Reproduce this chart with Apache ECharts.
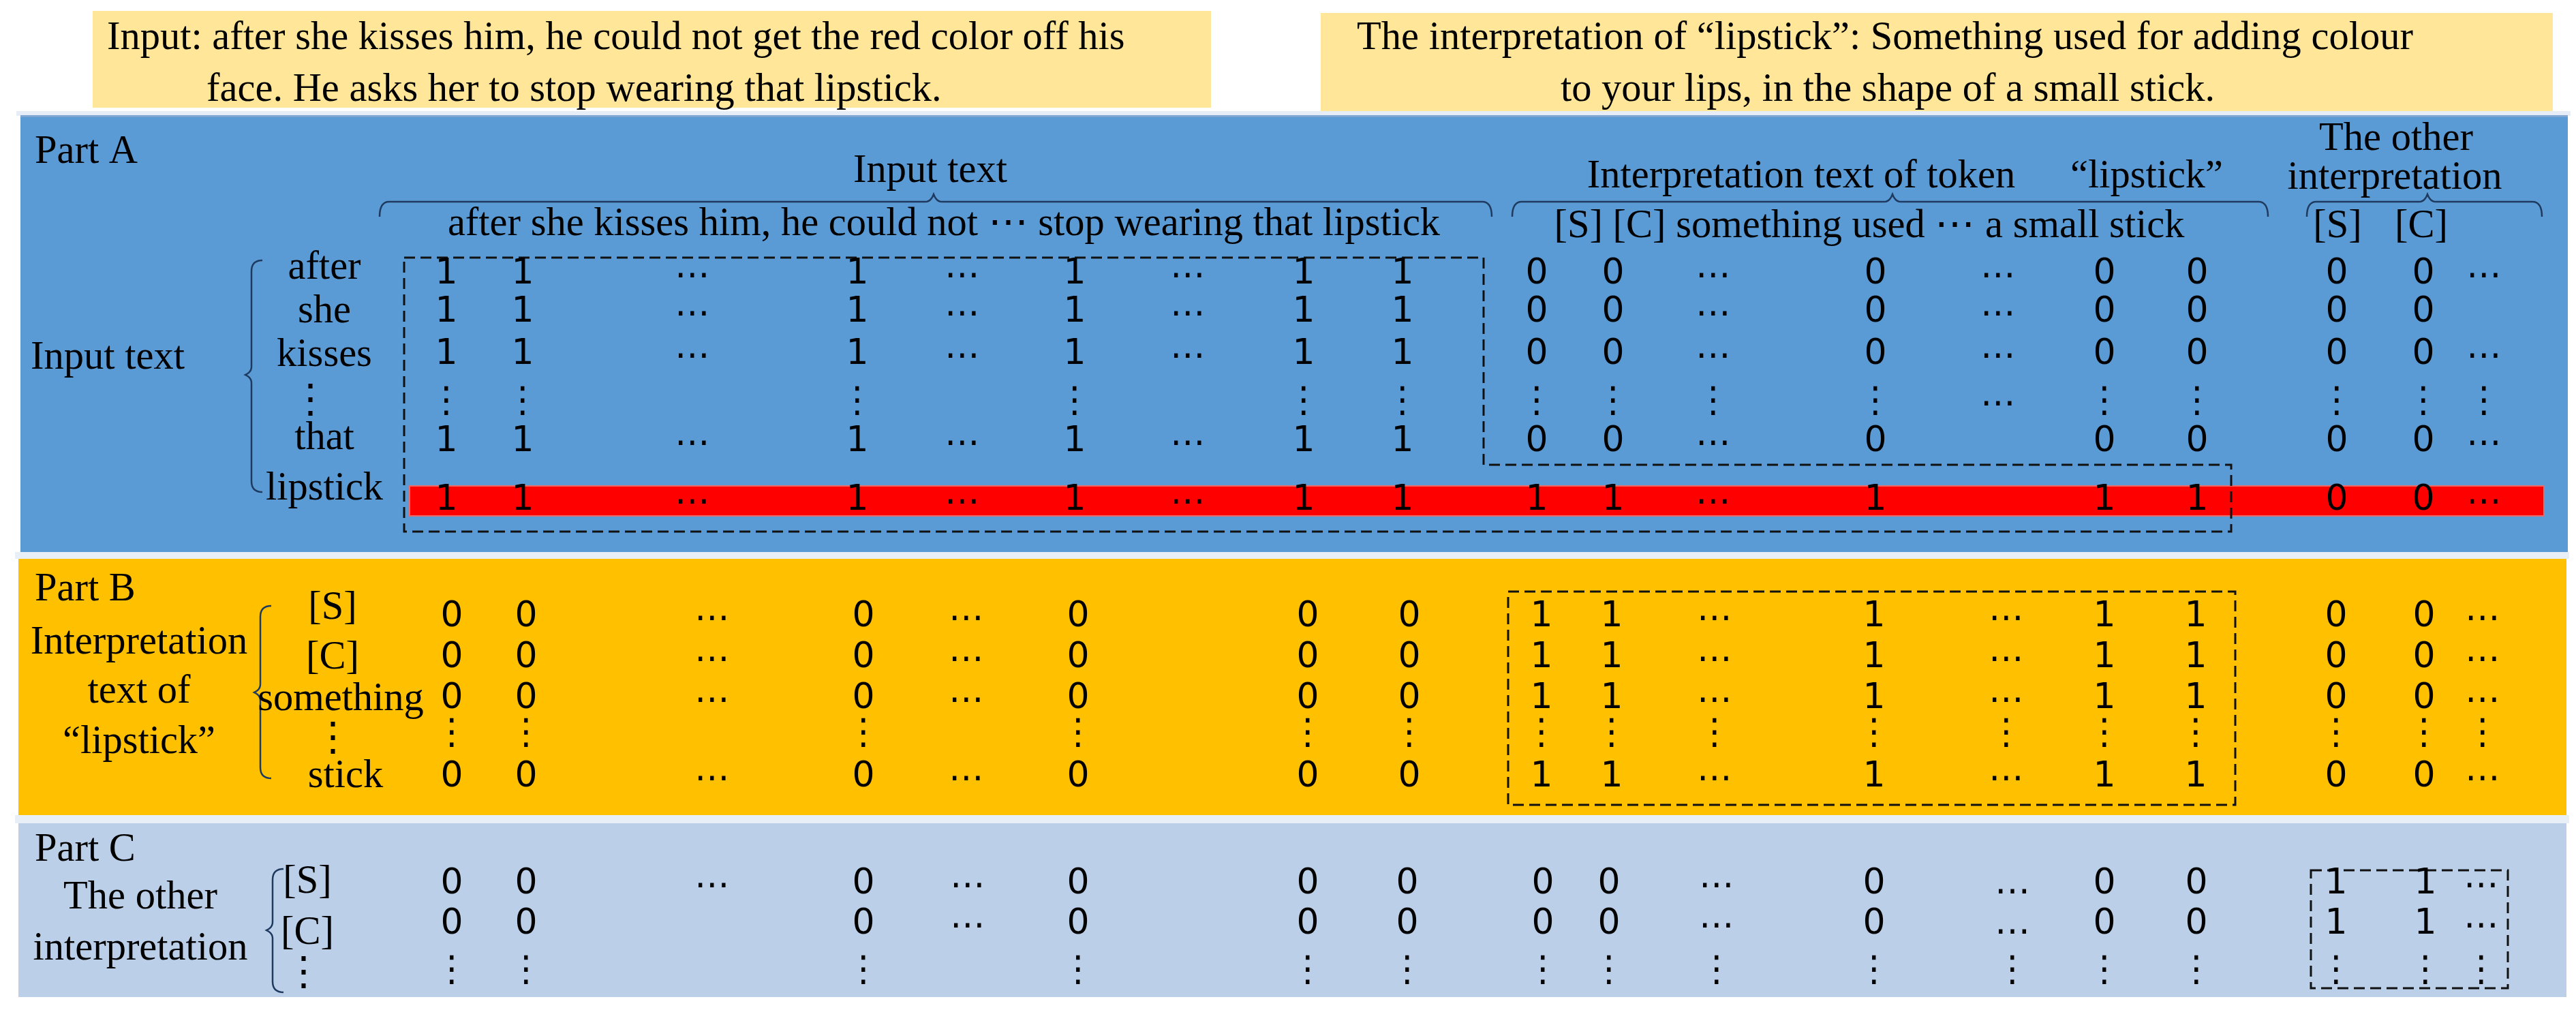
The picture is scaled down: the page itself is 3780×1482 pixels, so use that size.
<!DOCTYPE html>
<html>
<head>
<meta charset="utf-8">
<script src="https://cdn.jsdelivr.net/npm/echarts@6/dist/echarts.min.js"></script>
<style>
  html, body { margin: 0; padding: 0; background: #ffffff; }
  #chart { width: 3780px; height: 1482px; }
</style>
</head>
<body>
<div id="chart"></div>
<script>
// ---------------- DATA ----------------
const E = '⋯', V = '⋮', L = '…';

const inputSentence = ['Input: after she kisses him, he could not get the red color off his',
                       'face. He asks her to stop wearing that lipstick.'];
const interpSentence = ['The interpretation of “lipstick”: Something used for adding colour',
                        'to your lips, in the shape of a small stick.'];

const partNames = ['Part A', 'Part B', 'Part C'];
const partATitle = ['Input text'];
const partBTitle = ['Interpretation', 'text of', '“lipstick”'];
const partCTitle = ['The other', 'interpretation'];

const headerTexts = ['Input text',
  'after she kisses him, he could not ⋯ stop wearing that lipstick',
  'Interpretation text of token', '“lipstick”',
  '[S] [C] something used ⋯ a small stick',
  'The other', 'interpretation', '[S]', '[C]'];

const partARows = ['after', 'she', 'kisses', V, 'that', 'lipstick'];
const partBRows = ['[S]', '[C]', 'something', V, 'stick'];
const partCRows = ['[S]', '[C]', V];

const partAValues = [
  ['1','1',E,'1',E,'1',E,'1','1', '0','0',E,'0',E,'0','0', '0','0',E],
  ['1','1',E,'1',E,'1',E,'1','1', '0','0',E,'0',E,'0','0', '0','0',''],
  ['1','1',E,'1',E,'1',E,'1','1', '0','0',E,'0',E,'0','0', '0','0',E],
  [V,V,'',V,'',V,'',V,V,          V,V,V,V,E,V,V,           V,V,V],
  ['1','1',E,'1',E,'1',E,'1','1', '0','0',E,'0','','0','0', '0','0',E],
  ['1','1',E,'1',E,'1',E,'1','1', '1','1',E,'1','','1','1', '0','0',E]
];
const partBValues = [
  ['0','0',E,'0',E,'0','','0','0', '1','1',E,'1',E,'1','1', '0','0',E],
  ['0','0',E,'0',E,'0','','0','0', '1','1',E,'1',E,'1','1', '0','0',E],
  ['0','0',E,'0',E,'0','','0','0', '1','1',E,'1',E,'1','1', '0','0',E],
  [V,V,'',V,'',V,'',V,V,           V,V,V,V,V,V,V,           V,V,V],
  ['0','0',E,'0',E,'0','','0','0', '1','1',E,'1',E,'1','1', '0','0',E]
];
const partCValues = [
  ['0','0',E,'0',E,'0','','0','0',  '0','0',E,'0',L,'0','0', '1','1',E],
  ['0','0','','0',E,'0','','0','0', '0','0',E,'0',L,'0','0', '1','1',E],
  [V,V,'',V,'',V,'',V,V,            V,V,V,V,V,V,V,           V,V,V]
];

// ---------------- LAYOUT (pixel-unit axis values) ----------------
const W = 3780, H = 1482;
const colsA = [655,767,1016,1258,1412,1577,1743,1913,2058, 2255,2367,2514,2752,2932,3088,3224, 3429,3556,3645];
const colsB = [663,772,1045,1267,1418,1582,1743,1919,2068, 2262,2365,2516,2750,2944,3088,3222, 3428,3557,3643];
const colsC = [663,772,1045,1267,1420,1582,1743,1919,2065, 2264,2361,2519,2750,2953,3088,3223, 3428,3559,3641];
const rowsAY = [402,458,520,590,648,734];
const rowsBY = [905,965,1025,1077,1140];
const rowsCY = [1297,1356,1425];
const labAX = [476,476,476,455,476,476], labAY = [394,458,522,590,644,718];
const labBX = [488,488,500,488,507],     labBY = [893,966,1027,1086,1140];
const labCX = [451,451,445],             labCY = [1295,1370,1430];

const panels = [
  { r: [136, 16, 1777, 158], fill: '#FFE699' },
  { r: [1938, 19, 3746, 163], fill: '#FFE699' },
  { r: [24, 163, 3772, 170], fill: '#E6EDF6' },
  { r: [30, 169, 3768, 810], fill: '#5B9BD5' },
  { r: [30, 169, 3768, 172], fill: '#7FA6D2' },
  { r: [22, 810, 3770, 820], fill: '#E9EFF7' },
  { r: [27, 820, 3766, 1196], fill: '#FFC000' },
  { r: [22, 1196, 3770, 1208], fill: '#E9EFF7' },
  { r: [27, 1208, 3766, 1463], fill: '#BBCFE8' },
  { r: [601, 713, 3733, 757], fill: '#FF0000', stroke: '#E86A6A' }
];

const textFont = '58.5px "Liberation Serif", "DejaVu Serif", serif';
const cellFont = '52px "DejaVu Sans", sans-serif';

// ---------------- BUILD ----------------
function textSeries(items, font) {
  return {
    type: 'custom', silent: true, clip: false, z: 10,
    encode: { x: 0, y: 1 },
    data: items.map(d => [d.x, d.y]),
    renderItem: function (params, api) {
      const it = items[params.dataIndex];
      const p = api.coord([api.value(0), api.value(1)]);
      return { type: 'text', x: p[0], y: p[1],
        style: { text: it.t, font: font, fill: '#000', align: it.align || 'center', verticalAlign: 'middle' } };
    }
  };
}

function cellItems(values, cols, rows) {
  const out = [];
  values.forEach((row, r) => row.forEach((t, c) => {
    if (t) out.push({ x: cols[c], y: rows[r] + (t === E ? 4 : 0), t: t });
  }));
  return out;
}

const labelItems = [];
labelItems.push({ x: 157, y: 57, t: inputSentence[0], align: 'left' });
labelItems.push({ x: 303, y: 133, t: inputSentence[1], align: 'left' });
labelItems.push({ x: 2766, y: 57, t: interpSentence[0] });
labelItems.push({ x: 2770, y: 133, t: interpSentence[1] });
labelItems.push({ x: 51, y: 224, t: partNames[0], align: 'left' });
labelItems.push({ x: 51, y: 866, t: partNames[1], align: 'left' });
labelItems.push({ x: 51, y: 1248, t: partNames[2], align: 'left' });
labelItems.push({ x: 158, y: 526, t: partATitle[0] });
[944, 1016, 1090].forEach((y, i) => labelItems.push({ x: 204, y: y, t: partBTitle[i] }));
[1318, 1393].forEach((y, i) => labelItems.push({ x: 206, y: y, t: partCTitle[i] }));
const headerPos = [[1365, 252], [1385, 330], [2643, 260], [3150, 260], [2743, 333],
                   [3516, 205], [3514, 262], [3430, 333], [3553, 333]];
headerTexts.forEach((t, i) => labelItems.push({ x: headerPos[i][0], y: headerPos[i][1], t: t }));
partARows.forEach((t, i) => labelItems.push({ x: labAX[i], y: labAY[i], t: t }));
partBRows.forEach((t, i) => labelItems.push({ x: labBX[i], y: labBY[i], t: t }));
partCRows.forEach((t, i) => labelItems.push({ x: labCX[i], y: labCY[i], t: t }));

const rectSeries = {
  type: 'custom', silent: true, clip: false, z: 1,
  encode: { x: [0, 2], y: [1, 3] },
  data: panels.map(p => p.r),
  renderItem: function (params, api) {
    const a = api.coord([api.value(0), api.value(1)]);
    const b = api.coord([api.value(2), api.value(3)]);
    const p = panels[params.dataIndex];
    return { type: 'rect', shape: { x: a[0], y: a[1], width: b[0] - a[0], height: b[1] - a[1] },
      style: { fill: p.fill, stroke: p.stroke || null, lineWidth: p.stroke ? 2 : 0 } };
  }
};

const dashed = [
  [[593,378],[2177,378],[2177,682],[3274,682],[3274,780],[593,780]],
  [[2213,868],[3280,868],[3280,1181],[2213,1181]],
  [[3391,1277],[3680,1277],[3680,1450],[3391,1450]]
];
const dashedSeries = {
  type: 'custom', silent: true, clip: false, z: 5,
  encode: { x: 0, y: 1 },
  data: dashed.map(d => d[0]),
  renderItem: function (params, api) {
    const pts = dashed[params.dataIndex].map(q => api.coord(q));
    return { type: 'polygon', shape: { points: pts },
      style: { fill: null, stroke: '#111', lineWidth: 3, lineDash: [16, 8] } };
  }
};

function quad(p0, c, p1, n) {
  const out = [];
  for (let i = 0; i <= n; i++) {
    const t = i / n;
    out.push([(1-t)*(1-t)*p0[0] + 2*(1-t)*t*c[0] + t*t*p1[0],
              (1-t)*(1-t)*p0[1] + 2*(1-t)*t*c[1] + t*t*p1[1]]);
  }
  return out;
}
function hBrace(x0, x1, tx, y) {
  return [].concat(
    quad([x0, y + 22], [x0, y], [x0 + 14, y], 8),
    quad([tx - 12, y], [tx - 4, y], [tx, y - 11], 6),
    quad([tx, y - 11], [tx + 4, y], [tx + 12, y], 6),
    quad([x1 - 14, y], [x1, y], [x1, y + 22], 8));
}
function vBrace(x, y0, y1, ty) {
  return [].concat(
    quad([x + 16, y0], [x, y0], [x, y0 + 16], 8),
    quad([x, ty - 12], [x, ty - 4], [x - 9, ty], 6),
    quad([x - 9, ty], [x, ty + 4], [x, ty + 12], 6),
    quad([x, y1 - 16], [x, y1], [x + 16, y1], 8));
}
const braces = [
  hBrace(557, 2189, 1370, 296),
  hBrace(2219, 3328, 2777, 296),
  hBrace(3385, 3730, 3562, 296),
  vBrace(369, 382, 722, 550),
  vBrace(382, 889, 1142, 1016),
  vBrace(400, 1275, 1456, 1365)
];
const braceSeries = {
  type: 'custom', silent: true, clip: false, z: 6,
  encode: { x: 0, y: 1 },
  data: braces.map(b => b[0]),
  renderItem: function (params, api) {
    const pts = braces[params.dataIndex].map(q => api.coord(q));
    return { type: 'polyline', shape: { points: pts },
      style: { fill: null, stroke: '#1F3A5F', lineWidth: 2.5 } };
  }
};

const chart = echarts.init(document.getElementById('chart'), null, { renderer: 'canvas' });
chart.setOption({
  animation: false,
  backgroundColor: '#ffffff',
  grid: { left: 0, right: 0, top: 0, bottom: 0 },
  xAxis: { type: 'value', min: 0, max: W, show: false },
  yAxis: { type: 'value', min: 0, max: H, inverse: true, show: false },
  series: [
    rectSeries,
    dashedSeries,
    braceSeries,
    textSeries(labelItems, textFont),
    textSeries(cellItems(partAValues, colsA, rowsAY), cellFont),
    textSeries(cellItems(partBValues, colsB, rowsBY), cellFont),
    textSeries(cellItems(partCValues, colsC, rowsCY), cellFont)
  ]
});
</script>
</body>
</html>
